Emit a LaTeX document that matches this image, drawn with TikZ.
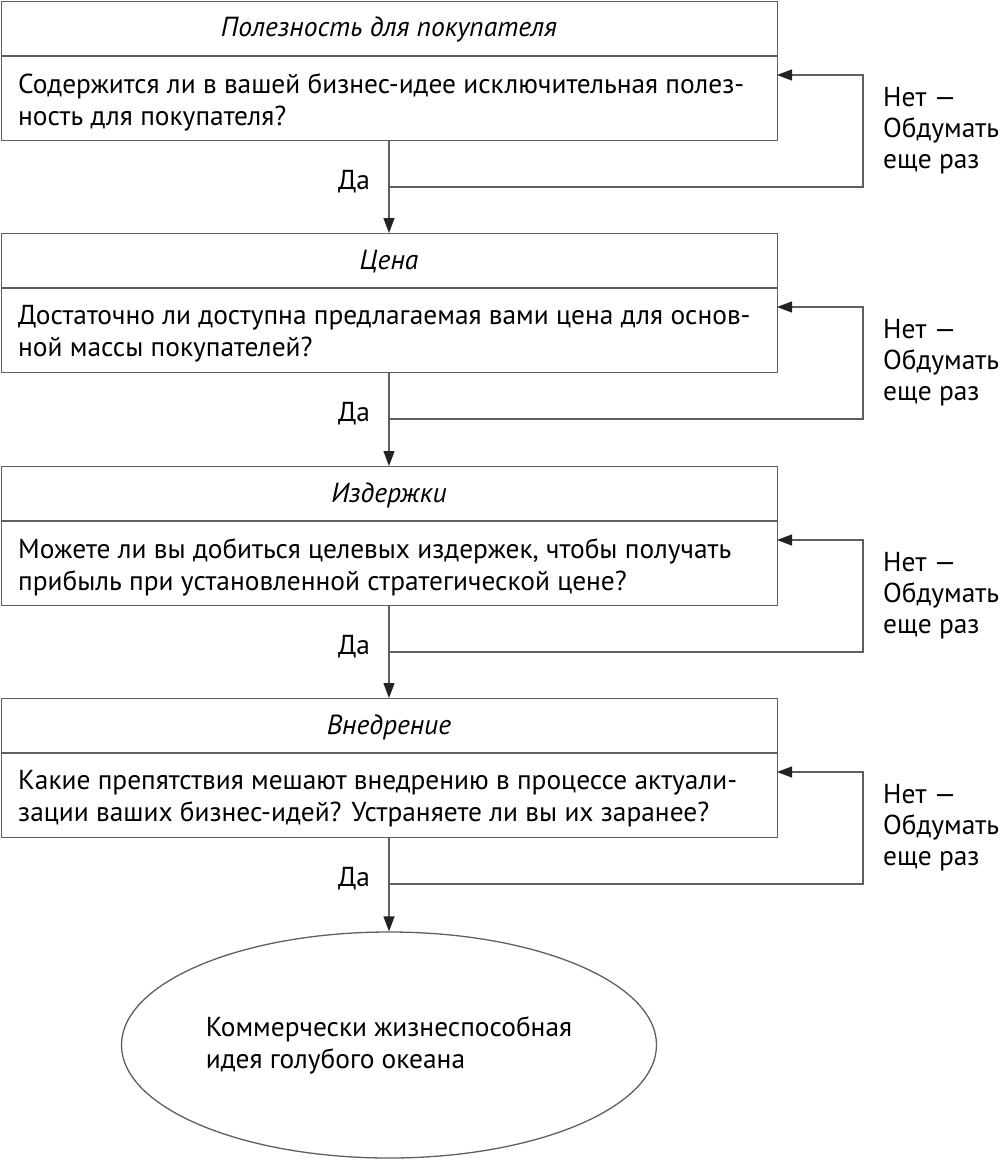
\documentclass[tikz,border=0pt]{standalone}
\usepackage{fontspec}
\setmainfont{PT Sans}
\usetikzlibrary{arrows.meta,shapes.geometric}
\definecolor{linegray}{RGB}{95,95,95}
\definecolor{tipgray}{RGB}{35,35,35}
\newcommand\flowstage[5]{%
  % #1 id, #2 top, #3 title, #4 line1, #5 line2
  \node[boxframe] (box#1) at (1,#2) {};
  \coordinate (divl#1) at (1,#2+55);
  \coordinate (divr#1) at (777,#2+55);
  \draw[line] (divl#1) -- (divr#1);
  \node[titletext] (title#1) at (389,#2+29) {#3};
  \node[bodytext] (body#1) at (18,#2+101) {#4\\#5};
  \coordinate (in#1) at (777,#2+74);
  \coordinate (out#1) at (389,#2+186);
  \coordinate (corner#1) at (863,#2+186);
  \node[labtext] (no#1) at (883,#2+130) {Нет —\\Обдумать\\еще раз};
  \node[labtext, anchor=center] (yes#1) at (354,#2+181) {Да};
  \draw[arr] (out#1) -- (corner#1) |- (in#1);
}
\begin{document}
\begin{tikzpicture}[x=1pt,y=-1pt,
  line/.style={draw=linegray, line width=1.3pt},
  arr/.style={line, -{Triangle[length=15pt,width=11pt,color=tipgray]}},
  boxframe/.style={line, rectangle, minimum width=776pt, minimum height=139pt, anchor=north west, inner sep=0pt},
  titletext/.style={font=\fontsize{27.6}{32}\selectfont\itshape, anchor=center, inner sep=0pt},
  bodytext/.style={font=\fontsize{27.4}{32}\selectfont, anchor=west, align=left, inner sep=0pt},
  labtext/.style={font=\fontsize{27.4}{31}\selectfont, anchor=west, align=left, inner sep=0pt}
]
\useasboundingbox (0,0) rectangle (1000,1161);
\flowstage{1}{1}{Полезность для покупателя}{Содержится ли в вашей бизнес-идее исключительная полез-}{ность для покупателя?}
\flowstage{2}{233}{Цена}{Достаточно ли доступна предлагаемая вами цена для основ-}{ной массы покупателей?}
\flowstage{3}{466}{Издержки}{Можете ли вы добиться целевых издержек, чтобы получать}{прибыль при установленной стратегической цене?}
\flowstage{4}{698}{Внедрение}{Какие препятствия мешают внедрению в процессе актуали-}{зации ваших бизнес-идей? Устраняете ли вы их заранее?}
\node[line, ellipse, minimum width=535pt, minimum height=226pt, inner sep=0pt,
      font=\fontsize{27.4}{32}\selectfont, align=left] (final) at (389,1045)
  {Коммерчески жизнеспособная\\идея голубого океана};
\draw[arr] (box1.south -| title1) -- (box2.north -| title1);
\draw[arr] (box2.south -| title2) -- (box3.north -| title2);
\draw[arr] (box3.south -| title3) -- (box4.north -| title3);
\draw[arr] (box4.south -| title4) -- (final.north);
\end{tikzpicture}
\end{document}
